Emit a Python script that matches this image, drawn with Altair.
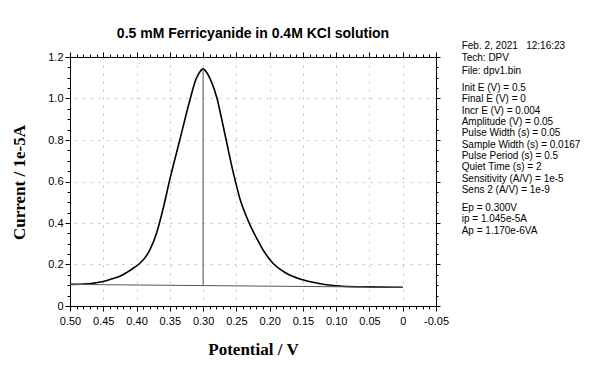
import altair as alt
import pandas as pd

# ---- data ----
potential = [0.50, 0.48, 0.465, 0.45, 0.44, 0.425, 0.415, 0.405, 0.395, 0.385, 0.38,
             0.37, 0.36, 0.35, 0.335, 0.32, 0.311, 0.305, 0.300, 0.295,
             0.289, 0.279, 0.272, 0.265, 0.258, 0.251, 0.244, 0.236, 0.228, 0.22,
             0.21, 0.195, 0.175, 0.15, 0.12, 0.09, 0.05, 0.0]
current = [0.104, 0.106, 0.110, 0.118, 0.128, 0.143, 0.161, 0.182, 0.206, 0.243, 0.271,
           0.351, 0.470, 0.610, 0.800, 0.990, 1.090, 1.128, 1.143, 1.128,
           1.092, 1.000, 0.900, 0.795, 0.690, 0.595, 0.510, 0.440, 0.380, 0.330,
           0.271, 0.206, 0.158, 0.126, 0.105, 0.095, 0.092, 0.090]

baseline_potential = [0.50, 0.0]
baseline_current = [0.104, 0.090]

peak_potential = [0.30, 0.30]
peak_current = [0.098, 1.143]

x_ticks = [round(0.5 - i * 0.01, 2) for i in range(56)]
y_ticks = [round(i * 0.05, 2) for i in range(25)]

title_text = "0.5 mM Ferricyanide in 0.4M KCl solution"
x_title = "Potential / V"
y_title = "Current / 1e-5A"

info_header = ["Feb. 2, 2021\u00a0\u00a0 12:16:23", "Tech: DPV", "File: dpv1.bin"]
info_params = ["Init E (V) = 0.5", "Final E (V) = 0", "Incr E (V) = 0.004",
               "Amplitude (V) = 0.05", "Pulse Width (s) = 0.05",
               "Sample Width (s) = 0.0167", "Pulse Period (s) = 0.5",
               "Quiet Time (s) = 2", "Sensitivity (A/V) = 1e-5", "Sens 2 (A/V) = 1e-9"]
info_results = ["Ep = 0.300V", "ip = 1.045e-5A", "Ap = 1.170e-6VA"]

# ---- tables ----
curve_df = pd.DataFrame({"potential": potential, "current": current})
base_df = pd.DataFrame({"potential": baseline_potential, "current": baseline_current})
peak_df = pd.DataFrame({"potential": peak_potential, "current": peak_current})
one_row = pd.DataFrame({"k": [0]})

X_MAJOR = "abs(datum.value*20 - round(datum.value*20)) < 0.001"
Y_MAJOR = "abs(datum.value*5 - round(datum.value*5)) < 0.001"

x_scale = alt.Scale(domain=[-0.05, 0.5], reverse=True, nice=False, zero=False)
y_scale = alt.Scale(domain=[0, 1.2], nice=False)

common_axis = dict(domainColor="black", domainWidth=1, tickColor="black",
                   labelFont="Liberation Sans", labelFontSize=11, labelColor="black",
                   labelOverlap=False, labelFlush=False)

x_axis_bottom = alt.Axis(
    values=x_ticks, orient="bottom", title=x_title,
    labelExpr=X_MAJOR + " ? (datum.value == 0 ? '0' : replace(format(datum.value, '.2f'), '\u2212', '-')) : ''",
    tickSize={"condition": {"test": X_MAJOR, "value": 5}, "value": 3},
    labelPadding=4,
    grid=True, gridColor="#bdbdbd", gridDash=[2, 6], gridWidth=1,
    gridOpacity={"condition": {"test": X_MAJOR, "value": 1}, "value": 0},
    titleFont="Liberation Serif", titleFontSize=17, titleFontWeight="bold", titleColor="black",
    titleX=183, titleY=43, titleAlign="center", titleBaseline="middle",
    **common_axis)

y_axis_left = alt.Axis(
    values=y_ticks, orient="left", title=y_title,
    labelExpr=Y_MAJOR + " ? (datum.value == 0 ? '0' : format(datum.value, '.1f')) : ''",
    tickSize={"condition": {"test": Y_MAJOR, "value": 5}, "value": 3},
    labelPadding=2,
    grid=True, gridColor="#bdbdbd", gridDash=[2, 6], gridWidth=1,
    gridOpacity={"condition": {"test": Y_MAJOR, "value": 1}, "value": 0},
    titleFont="Liberation Serif", titleFontSize=17, titleFontWeight="bold", titleColor="black",
    titleX=-51, titleY=125, titleAngle=270, titleAlign="center", titleBaseline="middle",
    **common_axis)

x_axis_top = alt.Axis(values=x_ticks, orient="top", title=None, labels=False, grid=False,
                      tickSize={"condition": {"test": X_MAJOR, "value": 5}, "value": 3},
                      domainColor="black", tickColor="black")
y_axis_right = alt.Axis(values=y_ticks, orient="right", title=None, labels=False, grid=False,
                        tickSize={"condition": {"test": Y_MAJOR, "value": 4}, "value": 2},
                        domainColor="black", tickColor="black")

curve = alt.Chart(curve_df).mark_line(color="black", strokeWidth=1.6, interpolate="monotone").encode(
    x=alt.X("potential:Q", scale=x_scale, axis=x_axis_bottom),
    y=alt.Y("current:Q", scale=y_scale, axis=y_axis_left),
)

base = alt.Chart(base_df).mark_line(color="#555555", strokeWidth=1).encode(
    x=alt.X("potential:Q", scale=x_scale, axis=x_axis_top),
    y=alt.Y("current:Q", scale=y_scale, axis=y_axis_right),
)

peak = alt.Chart(peak_df).mark_line(color="#555555", strokeWidth=1).encode(
    x=alt.X("potential:Q", scale=x_scale, axis=None),
    y=alt.Y("current:Q", scale=y_scale, axis=None),
)

title_mark = alt.Chart(one_row).mark_text(
    align="center", baseline="alphabetic", font="Liberation Sans", fontSize=14,
    fontWeight="bold", color="black").encode(
    x=alt.value(183), y=alt.value(-19.5), text=alt.value(title_text))

text_style = dict(align="left", baseline="alphabetic", font="Liberation Sans",
                  fontSize=10, color="black")

info1 = alt.Chart(one_row).mark_text(lineHeight=12.5, **text_style).encode(
    x=alt.value(391.7), y=alt.value(-8.3), text=alt.value(info_header))
info2 = alt.Chart(one_row).mark_text(lineHeight=11.33, **text_style).encode(
    x=alt.value(391.7), y=alt.value(34.0), text=alt.value(info_params))
info3 = alt.Chart(one_row).mark_text(lineHeight=11.33, **text_style).encode(
    x=alt.value(391.7), y=alt.value(154.0), text=alt.value(info_results))

chart = alt.layer(curve, base, peak, title_mark, info1, info2, info3).resolve_axis(
    x="independent", y="independent"
).properties(
    width=366, height=249,
    padding={"left": 62, "top": 49, "right": 145, "bottom": 74},
    autosize=alt.AutoSizeParams(type="none"),
    background="white",
).configure_view(stroke="transparent")

chart.save("out.html", embed_options={"renderer": "svg", "actions": False})
